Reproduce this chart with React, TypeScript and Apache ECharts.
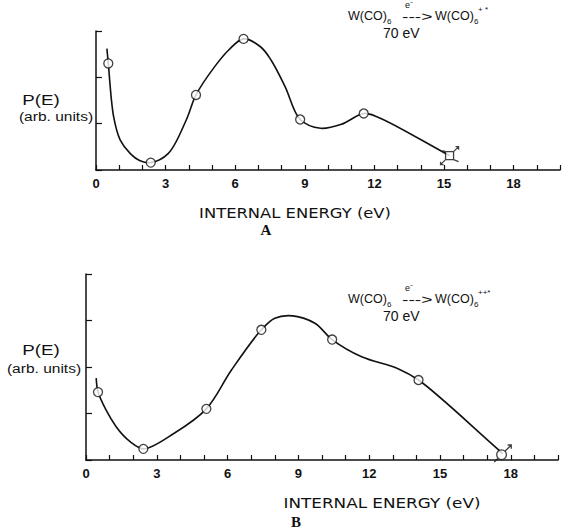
import React, { useEffect, useRef } from "react";
import * as echarts from "echarts";

// Panel A: W(CO)6 -> W(CO)6+*
const curveA: [number, number][] = [
  [0.47, 2.62], [0.53, 2.3], [0.76, 1.15], [1.04, 0.65], [1.47, 0.36], [1.9, 0.2],
  [2.36, 0.16], [3.12, 0.36], [3.89, 1.08], [4.31, 1.62], [5.1, 2.22], [5.72, 2.59],
  [6.36, 2.83], [7.09, 2.66], [7.55, 2.37], [8.15, 1.8], [8.8, 1.09], [9.68, 0.9],
  [10.6, 0.99], [11.54, 1.22], [12.2, 1.13], [15.24, 0.31],
];
const pointsA: [number, number][] = [
  [0.53, 2.3], [2.36, 0.16], [4.31, 1.62], [6.36, 2.83], [8.8, 1.09], [11.54, 1.22],
];
const endA: [number, number][] = [[15.24, 0.31]];

// Panel B: W(CO)6 -> W(CO)6++*
const curveB: [number, number][] = [
  [0.43, 1.76], [0.51, 1.46], [1.27, 0.72], [1.88, 0.39], [2.43, 0.24], [3.72, 0.57],
  [5.1, 1.1], [6.17, 1.94], [7.43, 2.8], [8.0, 3.05], [8.77, 3.1], [9.7, 2.94],
  [10.43, 2.59], [11.68, 2.22], [13.2, 1.97], [14.09, 1.72], [17.66, 0.14],
];
const pointsB: [number, number][] = [
  [0.51, 1.46], [2.43, 0.24], [5.1, 1.1], [7.43, 2.8], [10.43, 2.59], [14.09, 1.72],
];
const endB: [number, number][] = [[17.66, 0.14]];

const xLabelEvery = 3;
const xTitle = "INTERNAL ENERGY (eV)";
const yTitle = "P(E)";
const yUnits = "(arb. units)";

const FONT = "'Liberation Sans', Arial, sans-serif";
const INK = "#111";

const squareArrows =
  "path://M6,6L14,6L14,14L6,14Z M14,6L19,1 M16,1L19,1L19,4 M6,14L1,19 M1,16L1,19L4,19 M14,14L19,16 M6,6L3,5";
const circleArrow =
  "path://M6,10a4,4 0 1,0 8,0a4,4 0 1,0 -8,0 M13,7L18,2 M15,2L18,2L18,5 M7,13L4,16";

// centripetal Catmull-Rom through pixel points -> SVG path
function splinePath(pts: number[][]): string {
  const n = pts.length;
  let d = `M${pts[0][0]},${pts[0][1]}`;
  const dist = (a: number[], b: number[]) => Math.hypot(a[0] - b[0], a[1] - b[1]);
  for (let i = 0; i < n - 1; i++) {
    const p0 = pts[i - 1] || pts[i];
    const p1 = pts[i];
    const p2 = pts[i + 1];
    const p3 = pts[i + 2] || pts[i + 1];
    const l01 = dist(p0, p1), l12 = dist(p1, p2), l23 = dist(p2, p3);
    const l01a = Math.sqrt(l01), l12a = Math.sqrt(l12), l23a = Math.sqrt(l23);
    let c1 = [p1[0], p1[1]];
    let c2 = [p2[0], p2[1]];
    if (l01a > 1e-6) {
      const a = 2 * l01 + 3 * l01a * l12a + l12;
      const m = 3 * l01a * (l01a + l12a);
      c1 = [0, 1].map((k) => (p1[k] * a - p0[k] * l12 + p2[k] * l01) / m);
    } else {
      c1 = [0, 1].map((k) => p1[k] + (p2[k] - p1[k]) / 3);
    }
    if (l23a > 1e-6) {
      const b = 2 * l23 + 3 * l23a * l12a + l12;
      const m = 3 * l23a * (l23a + l12a);
      c2 = [0, 1].map((k) => (p2[k] * b + p1[k] * l23 - p3[k] * l12) / m);
    } else {
      c2 = [0, 1].map((k) => p2[k] - (p2[k] - p1[k]) / 3);
    }
    d += ` C${c1[0]},${c1[1]} ${c2[0]},${c2[1]} ${p2[0]},${p2[1]}`;
  }
  return d;
}

function curveSeries(data: [number, number][], idx: number) {
  return {
    type: "custom",
    xAxisIndex: idx,
    yAxisIndex: idx,
    data,
    silent: true,
    clip: false,
    z: 2,
    renderItem: (params: any, api: any) => {
      if (params.dataIndex !== 0) return { type: "group", children: [] };
      const pts = data.map((p) => api.coord(p));
      return {
        type: "path",
        shape: { pathData: splinePath(pts) },
        style: { stroke: INK, fill: "none", lineWidth: 1.6 },
      };
    },
  };
}

function xAxis(gridIndex: number) {
  return {
    type: "value",
    gridIndex,
    min: 0,
    max: 20,
    interval: 1,
    axisLine: { show: true, lineStyle: { color: INK, width: 1.5 } },
    axisTick: { show: true, inside: true, length: 5, lineStyle: { color: INK, width: 1.2 } },
    splitLine: { show: false },
    axisLabel: {
      color: INK,
      fontFamily: FONT,
      fontSize: 13,
      fontWeight: "bold",
      margin: 7,
      formatter: (v: number) => (v % xLabelEvery === 0 && v <= 18 ? String(v) : ""),
    },
  };
}

function yAxis(gridIndex: number, max: number) {
  return {
    type: "value",
    gridIndex,
    min: 0,
    max,
    interval: 1,
    axisLine: { show: true, lineStyle: { color: INK, width: 1.5 } },
    axisTick: { show: true, inside: true, length: 6, lineStyle: { color: INK, width: 1.2 } },
    splitLine: { show: false },
    axisLabel: { show: false },
  };
}

function txt(text: string, x: number, y: number, fontSize: number, extra: any = {}, scaleX = 1) {
  return {
    type: "text",
    x,
    y,
    scaleX,
    style: {
      text,
      fontSize,
      fontFamily: FONT,
      fill: INK,
      verticalAlign: "middle",
      align: "left",
      ...extra,
    },
  };
}

function titleGroup(dy: number, charge: string) {
  return [
    txt("W(CO)", 348, 16 + dy, 12.5),
    txt("6", 387, 21 + dy, 8),
    txt("e⁻", 405, 5 + dy, 9),
    txt("--->", 402, 17 + dy, 12, {}, 1.6),
    txt("W(CO)", 435, 16 + dy, 12.5),
    txt("6", 474, 21 + dy, 8),
    txt(charge, 478, 9 + dy, 8),
    txt("70 eV", 383, 33 + dy, 14),
  ];
}

export default function App() {
  const ref = useRef<HTMLDivElement>(null);
  useEffect(() => {
    if (!ref.current) return;
    const chart = echarts.init(ref.current, undefined, { renderer: "svg" });
    const marker = { color: "#fff", borderColor: INK, borderWidth: 1.3 };
    chart.setOption({
      animation: false,
      backgroundColor: "#fff",
      grid: [
        { left: 96, top: 31, width: 466, height: 139 },
        { left: 86, top: 274, width: 472, height: 186 },
      ],
      xAxis: [xAxis(0), xAxis(1)],
      yAxis: [yAxis(0, 3), yAxis(1, 4)],
      series: [
        curveSeries(curveA, 0),
        { type: "scatter", xAxisIndex: 0, yAxisIndex: 0, data: pointsA, symbol: "circle", symbolSize: 9, itemStyle: marker, z: 3 },
        { type: "scatter", xAxisIndex: 0, yAxisIndex: 0, data: endA, symbol: squareArrows, symbolSize: 18, symbolKeepAspect: true, itemStyle: marker, z: 3 },
        curveSeries(curveB, 1),
        { type: "scatter", xAxisIndex: 1, yAxisIndex: 1, data: pointsB, symbol: "circle", symbolSize: 9, itemStyle: marker, z: 3 },
        { type: "scatter", xAxisIndex: 1, yAxisIndex: 1, data: endB, symbol: circleArrow, symbolSize: 17, symbolKeepAspect: true, itemStyle: marker, z: 3 },
      ],
      graphic: [
        ...titleGroup(0, "+ *"),
        ...titleGroup(283, "++*"),
        txt(yTitle, 41, 100, 15, { align: "center" }, 1.25),
        txt(yUnits, 56, 116, 13.5, { align: "center" }, 1.15),
        txt(yTitle, 41, 350, 15, { align: "center" }, 1.25),
        txt(yUnits, 44, 368, 13.5, { align: "center" }, 1.15),
        txt(xTitle, 295, 213, 14, { align: "center", fontFamily: "'DejaVu Sans', sans-serif" }, 1.17),
        txt(xTitle, 382, 503, 14, { align: "center", fontFamily: "'DejaVu Sans', sans-serif" }, 1.2),
        txt("A", 266, 230, 15, { align: "center", fontWeight: "bold", fontFamily: "'Liberation Serif', serif" }),
        txt("B", 296, 522, 15, { align: "center", fontWeight: "bold", fontFamily: "'Liberation Serif', serif" }),
      ],
    });
    return () => chart.dispose();
  }, []);
  return (
    <div
      ref={ref}
      style={{ position: "absolute", left: 0, top: 0, width: 563, height: 531 }}
    />
  );
}
